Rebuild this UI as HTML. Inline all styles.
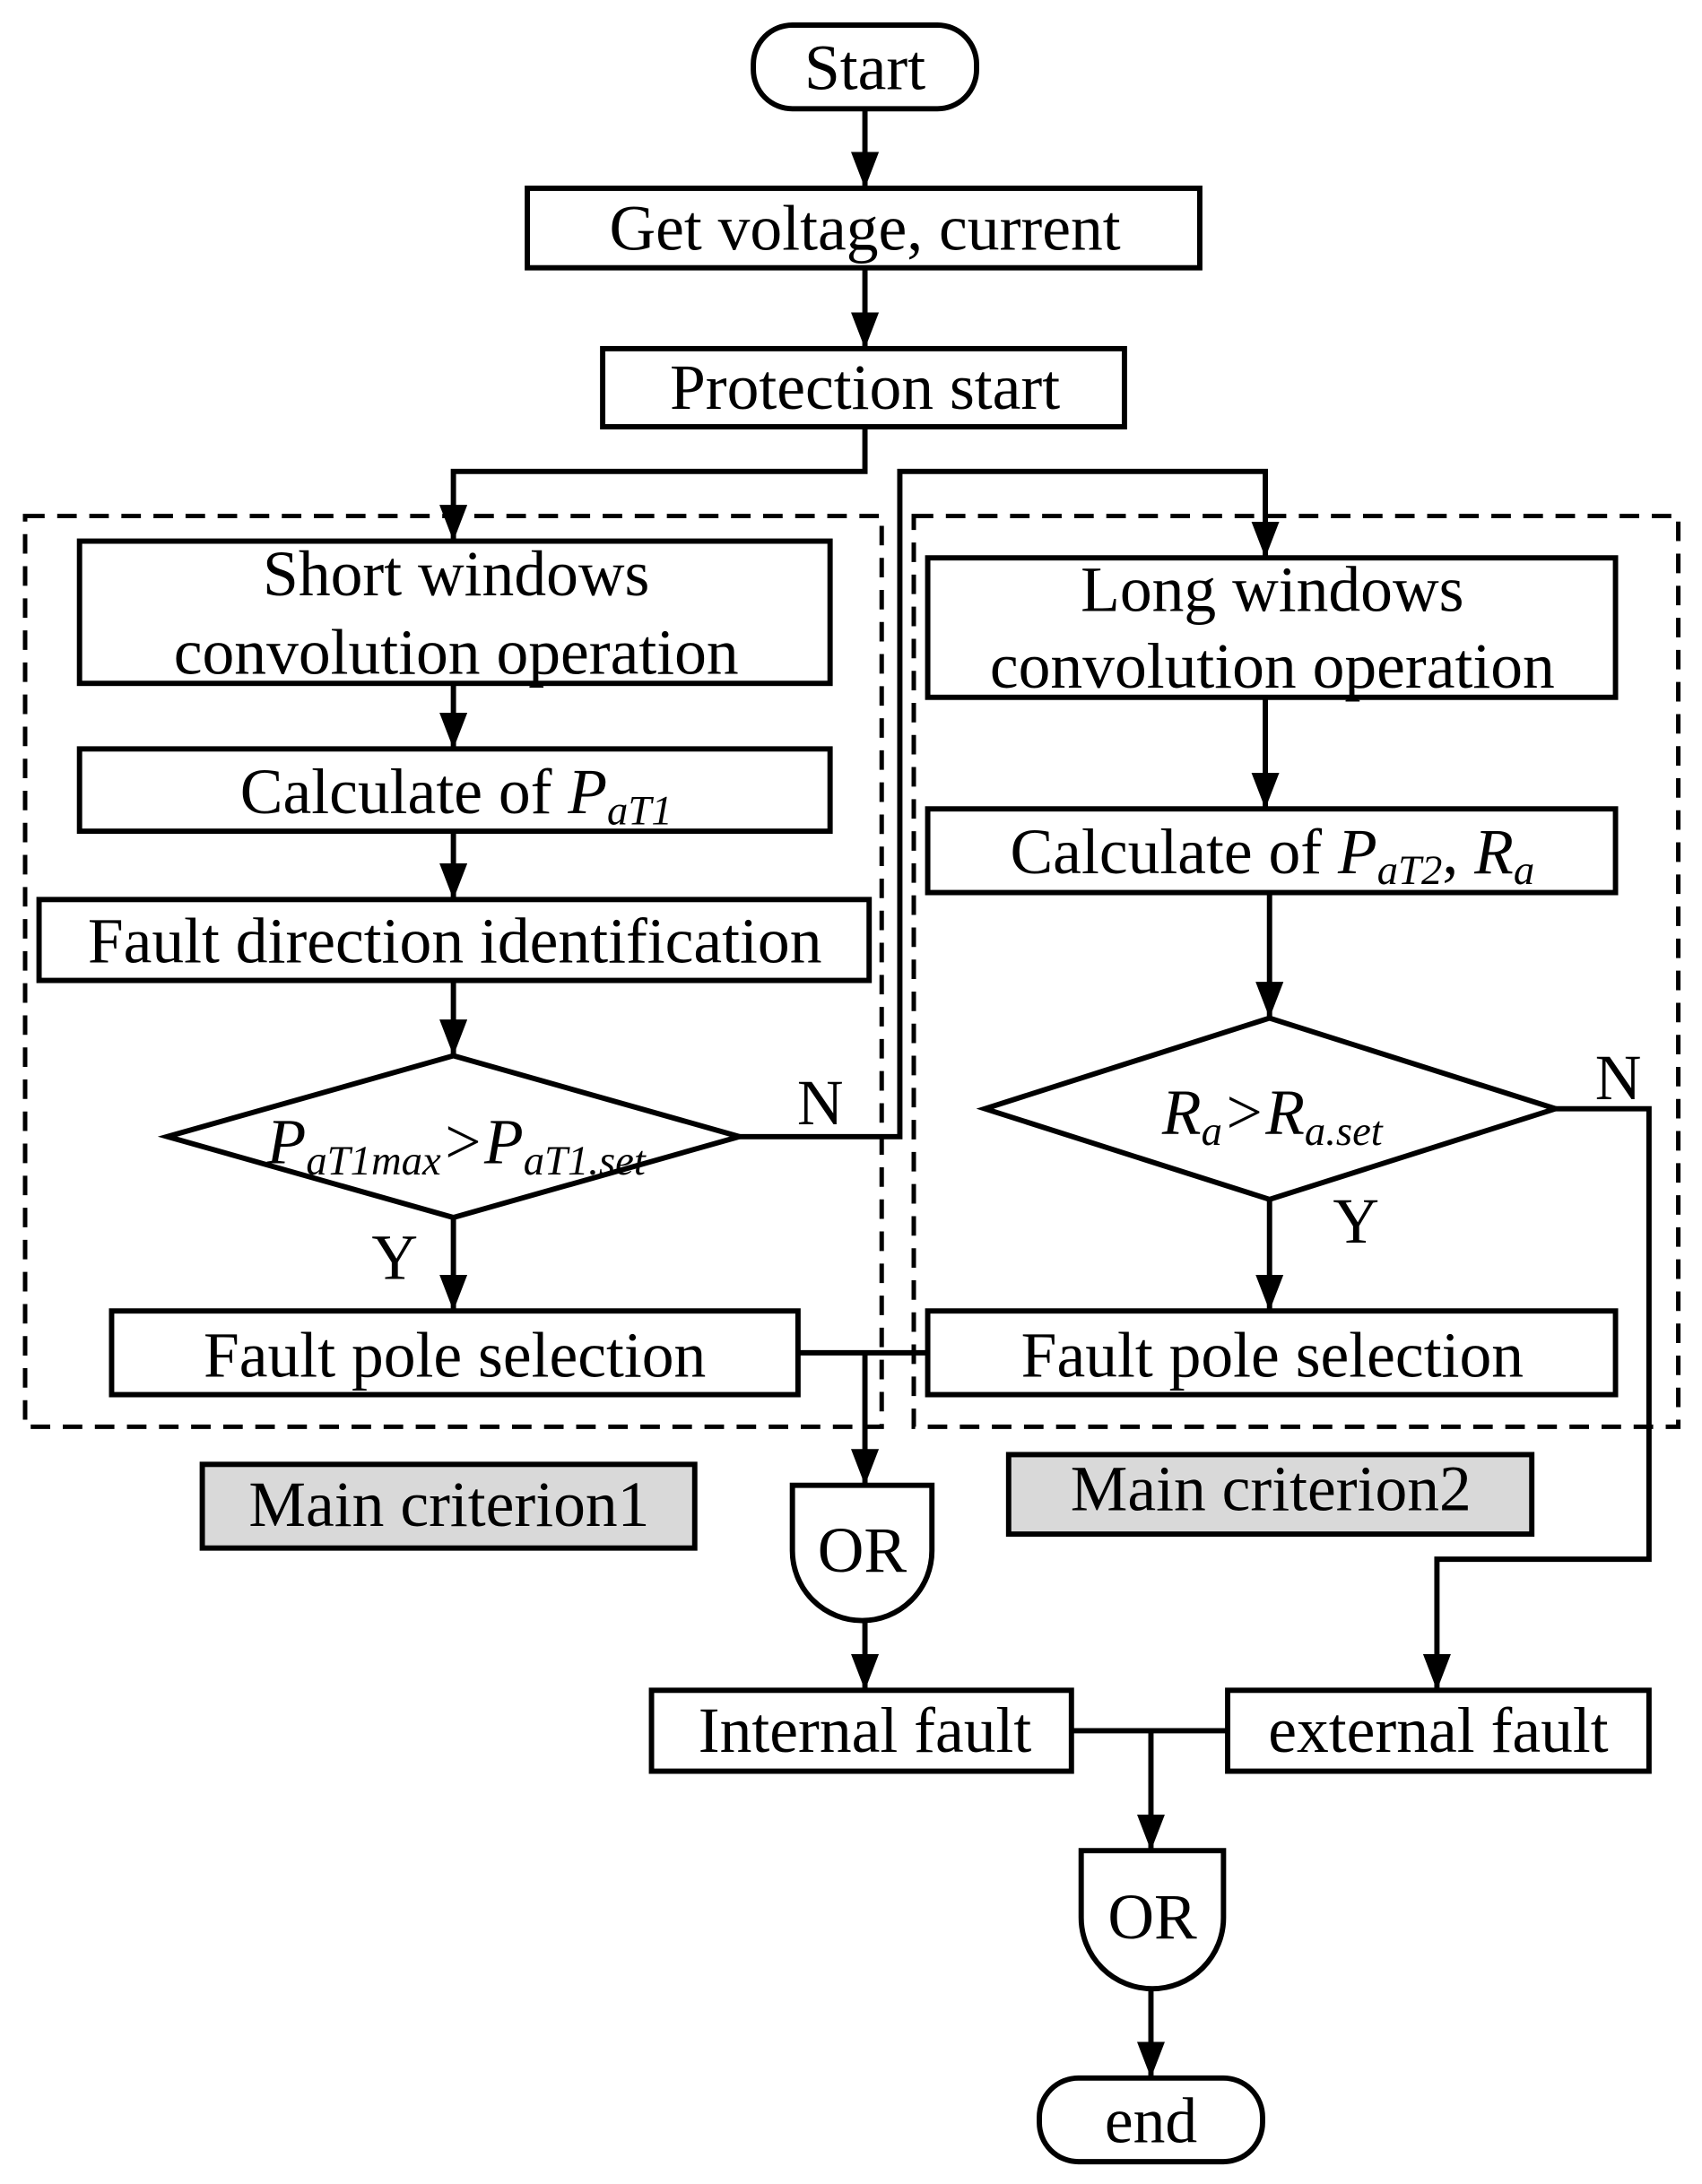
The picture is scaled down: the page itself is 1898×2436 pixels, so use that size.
<!DOCTYPE html>
<html><head><meta charset="utf-8"><style>html,body{margin:0;padding:0;background:#fff}svg{display:block}</style></head>
<body>
<svg width="1898" height="2436" viewBox="0 0 1220 1566" preserveAspectRatio="none" xmlns="http://www.w3.org/2000/svg" font-family="Liberation Serif, serif" font-size="46">
<defs><marker id="a" viewBox="0 0 26 20" refX="26" refY="10" markerWidth="26" markerHeight="20" markerUnits="userSpaceOnUse" orient="auto"><path d="M0,0L26,10L0,20z" fill="#000"/></marker></defs>
<g fill="none" stroke="#000" stroke-width="3.8">
<rect x="540" y="18" width="160" height="60" rx="28"/>
<rect x="378" y="135" width="482" height="57"/>
<rect x="432" y="250" width="374" height="56"/>
<g stroke-dasharray="14,9" stroke-width="3.2"><rect x="18" y="370" width="614" height="653"/><rect x="655" y="370" width="548" height="653"/></g>
<rect x="57" y="388" width="538" height="102"/>
<rect x="57" y="537" width="538" height="59"/>
<rect x="28" y="645" width="595" height="58"/>
<polygon points="120,815 325,757 530,815 325,873"/>
<rect x="80" y="940" width="492" height="60"/>
<rect x="665" y="400" width="493" height="100"/>
<rect x="665" y="580" width="493" height="60"/>
<polygon points="706,795 910,730 1115,795 910,860"/>
<rect x="665" y="940" width="493" height="60"/>
<rect x="145" y="1050" width="353" height="60" fill="#d9d9d9"/>
<rect x="723" y="1043" width="375" height="57" fill="#d9d9d9"/>
<path d="M568,1065H668V1112A50,50 0 0 1 568,1112Z"/>
<path d="M775,1327H877V1375A51,51 0 0 1 775,1375Z"/>
<rect x="467" y="1212" width="301" height="58"/>
<rect x="880" y="1212" width="302" height="58"/>
<rect x="745" y="1490" width="160" height="60" rx="28"/>
<g marker-end="url(#a)">
<path d="M620,78V135"/><path d="M620,192V250"/>
<path d="M620,306V338H325V388"/>
<path d="M530,815H645V338H907V400"/>
<path d="M325,490V537"/><path d="M325,596V645"/><path d="M325,703V757"/>
<path d="M325,873V940"/>
<path d="M907,500V580"/><path d="M910,640V730"/><path d="M910,860V940"/>
<path d="M1115,795H1182V1118H1030V1212"/>
<path d="M620,970V1065"/>
<path d="M620,1162V1212"/>
<path d="M825,1241V1327"/>
<path d="M825,1425V1490"/>
</g>
<path d="M572,970H665"/><path d="M768,1241H880"/>
</g>
<g fill="#000" text-anchor="middle">
<text x="620" y="64">Start</text>
<text x="620" y="179">Get voltage, current</text>
<text x="620" y="293">Protection start</text>
<text x="327" y="427">Short windows</text>
<text x="327" y="483">convolution operation</text>
<text x="327" y="583">Calculate of <tspan font-style="italic">P<tspan font-size="30" dy="8">aT1</tspan></tspan></text>
<text x="326" y="690">Fault direction identification</text>
<text x="327" y="834" font-style="italic">P<tspan font-size="30" dy="8">aT1max</tspan><tspan dy="-8">&gt;P</tspan><tspan font-size="30" dy="8">aT1.set</tspan></text>
<text x="588" y="806">N</text>
<text x="283" y="917">Y</text>
<text x="326" y="987">Fault pole selection</text>
<text x="912" y="438">Long windows</text>
<text x="912" y="493">convolution operation</text>
<text x="912" y="626">Calculate of <tspan font-style="italic">P<tspan font-size="30" dy="8">aT2</tspan></tspan><tspan dy="-8">, </tspan><tspan font-style="italic">R<tspan font-size="30" dy="8">a</tspan></tspan></text>
<text x="912" y="813" font-style="italic">R<tspan font-size="30" dy="8">a</tspan><tspan dy="-8">&gt;R</tspan><tspan font-size="30" dy="8">a.set</tspan></text>
<text x="1160" y="788">N</text>
<text x="972" y="891">Y</text>
<text x="912" y="987">Fault pole selection</text>
<text x="322" y="1094">Main criterion1</text>
<text x="911" y="1083">Main criterion2</text>
<text x="618" y="1127">OR</text>
<text x="826" y="1390">OR</text>
<text x="620" y="1256">Internal fault</text>
<text x="1031" y="1256">external fault</text>
<text x="825" y="1536">end</text>
</g>
</svg>
</body></html>
